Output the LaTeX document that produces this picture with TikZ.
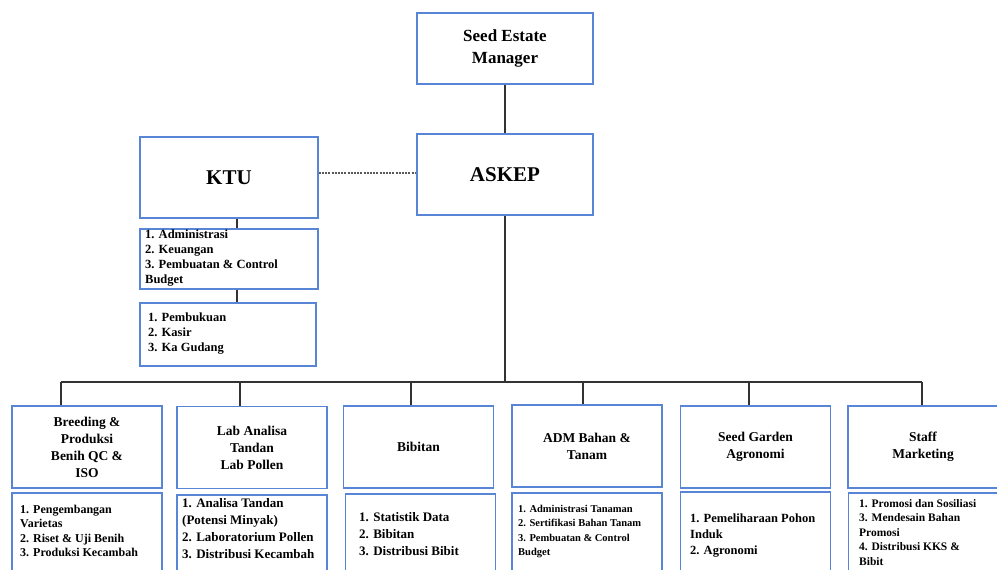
\documentclass[tikz,border=0pt]{standalone}
\usepackage{fontspec}
\setmainfont{Liberation Serif}
\usetikzlibrary{positioning}
\definecolor{boxblue}{RGB}{88,133,214}

\begin{document}
\begin{tikzpicture}[x=1pt, y=-1pt,
  box/.style={draw=boxblue, line width=1.5pt, inner sep=0pt, align=center},
  big/.style={font=\bfseries\fontsize{21}{25}\selectfont},
  unit/.style={box, minimum width=150pt, minimum height=82pt, font=\bfseries\fontsize{13.5}{17}\selectfont},
  duty/.style={box, minimum width=150pt, minimum height=90pt},
  items/.style 2 args={anchor=north west, inner sep=0pt, align=left, font=\bfseries\fontsize{#1}{#2}\selectfont},
  link/.style={draw=black!80, line width=1.2pt}]
\useasboundingbox (0,0) rectangle (997,570);

% top of the chart
\node[box, minimum width=176pt, minimum height=71pt, font=\bfseries\fontsize{17}{22}\selectfont] (sem) at (505,48.5) {Seed Estate\\Manager};
\node[box, big, minimum width=176pt, minimum height=81pt] (askep) at (505,174.5) {ASKEP};
\node[box, big, minimum width=178pt, minimum height=81pt] (ktu) at (229,177.5) {KTU};
\node[box, minimum width=178pt, minimum height=60pt] (ktu1) at (229,259) {};
\node[box, minimum width=176pt, minimum height=63pt] (ktu2) at (228,334.5) {};
\node[items={12.5}{15}] (ktu1t) at (145,229.5) {1. Administrasi\\2. Keuangan\\3. Pembuatan \& Control\\Budget};
\node[items={12.5}{15}] (ktu2t) at (148,313) {1. Pembukuan\\2. Kasir\\3. Ka Gudang};

% units
\node[unit] (hA) at (87,447) {Breeding \&\\Produksi\\Benih QC \&\\ISO};
\node[unit] (hB) at (252,447.5) {Lab Analisa\\Tandan\\Lab Pollen};
\node[unit] (hC) at (418.5,447) {Bibitan};
\node[unit] (hD) at (587,446) {ADM Bahan \&\\Tanam};
\node[unit] (hE) at (755.5,447) {Seed Garden\\Agronomi};
\node[unit] (hF) at (923,447) {Staff\\Marketing};

\node[duty] (lA) at (87,538) {};
\node[duty] (lB) at (252,540) {};
\node[duty] (lC) at (420.5,539) {};
\node[duty] (lD) at (587,538) {};
\node[duty] (lE) at (755.5,537) {};
\node[duty] (lF) at (923.5,538) {};

\node[items={12}{14.5}] (tA) at (20,504.5) {1. Pengembangan\\Varietas\\2. Riset \& Uji Benih\\3. Produksi Kecambah};
\node[items={13}{16.8}] (tB) at (182,498.5) {1. Analisa Tandan\\(Potensi Minyak)\\2. Laboratorium Pollen\\3. Distribusi Kecambah};
\node[items={13}{17}] (tC) at (359,512) {1. Statistik Data\\2. Bibitan\\3. Distribusi Bibit};
\node[items={10.5}{14.3}] (tD) at (518,505) {1. Administrasi Tanaman\\2. Sertifikasi Bahan Tanam\\3. Pembuatan \& Control\\Budget};
\node[items={12.5}{16}] (tE) at (690,514) {1. Pemeliharaan Pohon\\Induk\\2. Agronomi};
\node[items={11.5}{14.5}] (tF) at (859,499) {1. Promosi dan Sosiliasi\\3. Mendesain Bahan\\Promosi\\4. Distribusi KKS \&\\Bibit};

% lines
\coordinate (bus) at (505,382);
\coordinate (dA) at (61,382);
\coordinate (dB) at (240,382);
\coordinate (dC) at (411,382);
\coordinate (dD) at (583,382);
\coordinate (dE) at (749,382);
\coordinate (dF) at (922,382);
\coordinate (kx) at (237,0);
\draw[link] (sem) -- (askep);
\draw[link] (askep) -- (bus);
\draw[link] (dA) -- (dF);
\foreach \u in {A,B,C,D,E,F}
  \draw[link] (d\u) -- (d\u |- h\u.north);
\draw[draw=black!65, line width=2pt, dash pattern=on 2pt off 1.2pt] ([yshift=5pt]ktu.east) -- ([yshift=5pt]ktu.east -| askep.west);
\draw[link] (ktu.south -| kx) -- (ktu1.north -| kx);
\draw[link] (ktu1.south -| kx) -- (ktu2.north -| kx);
\end{tikzpicture}
\end{document}
